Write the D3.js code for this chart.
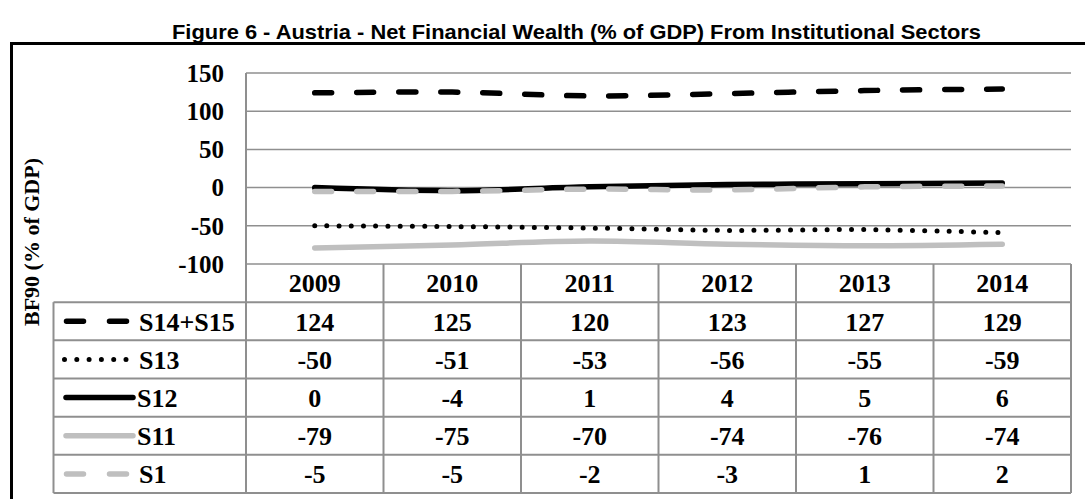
<!DOCTYPE html>
<html><head><meta charset="utf-8">
<script src="https://cdn.jsdelivr.net/npm/d3@7"></script>
<style>body{margin:0;background:#fff}svg{display:block}</style>
</head><body>
<svg id="c" width="1085" height="499"></svg>
<script>
const years = ["2009","2010","2011","2012","2013","2014"];
const seriesNames = ["S14+S15","S13","S12","S11","S1"];
const s14s15 = [124,125,120,123,127,129];
const s13 = [-50,-51,-53,-56,-55,-59];
const s12 = [0,-4,1,4,5,6];
const s11 = [-79,-75,-70,-74,-76,-74];
const s1 = [-5,-5,-2,-3,1,2];
const yTicks = [150,100,50,0,-50,-100];
const titleText = "Figure 6 - Austria - Net Financial Wealth (% of GDP) From Institutional Sectors";
const yTitle = "BF90 (% of GDP)";

const seriesValues = [s14s15, s13, s12, s11, s1];
const styles = [
  {color:"#000", w:5.5, dash:"17,25", keyDash:"17,26", solid:false},
  {color:"#000", w:5, dash:"0,12.2", keyDash:"0,12.3", solid:false},
  {color:"#000", w:5.5, dash:null, keyDash:null, solid:true},
  {color:"#bfbfbf", w:5.5, dash:null, keyDash:null, solid:true},
  {color:"#bfbfbf", w:5.5, dash:"17,25", keyDash:"17,26", solid:false}
];

const svg = d3.select("#c");
const serif = "'Liberation Serif','Times New Roman',serif";
const gridColor = "#8f8f8f";

const plotL = 246, plotR = 1071, plotT = 73, plotB = 264, tableB = 493, tableL = 53.5;
const x = d3.scaleBand().domain(years).range([plotL, plotR]);
const y = d3.scaleLinear().domain([-100,150]).range([plotB, plotT]);
const rows = d3.scaleBand().domain(["hdr", ...seriesNames]).range([plotB, tableB]);

// frame
svg.append("line").attr("x1",11.5).attr("x2",11.5).attr("y1",42).attr("y2",499).attr("stroke","#000").attr("stroke-width",3);
svg.append("line").attr("x1",10).attr("x2",1085).attr("y1",43.5).attr("y2",43.5).attr("stroke","#000").attr("stroke-width",3);

// title
svg.append("text").attr("x",172).attr("y",39)
  .attr("font-family","'Liberation Sans Narrow','Arial Narrow','Liberation Sans',Arial,sans-serif")
  .attr("font-weight","bold").attr("font-size",20.5)
  .attr("textLength",809).attr("lengthAdjust","spacingAndGlyphs").text(titleText);

// gridlines
svg.append("g").selectAll("line").data(yTicks).join("line")
  .attr("x1",plotL).attr("x2",plotR).attr("y1",d=>y(d)).attr("y2",d=>y(d))
  .attr("stroke",gridColor).attr("stroke-width",1.5);

// y tick labels
svg.append("g").selectAll("text").data(yTicks).join("text")
  .attr("x",224).attr("y",d=>y(d)).attr("dy","0.35em").attr("text-anchor","end")
  .attr("font-family",serif).attr("font-weight","bold").attr("font-size",25).text(d=>d);

// y title
svg.append("text").attr("transform","translate(39,242) rotate(-90)").attr("text-anchor","middle")
  .attr("font-family",serif).attr("font-weight","bold").attr("font-size",22).text(yTitle);

// table lines
const tg = svg.append("g").attr("stroke",gridColor).attr("stroke-width",2);
const colEdges = years.map(d=>x(d)).concat([plotR]);
tg.selectAll("line.v").data(colEdges).join("line").attr("class","v")
  .attr("x1",d=>d).attr("x2",d=>d).attr("y1",(d,i)=>i===0?plotT:plotB).attr("y2",tableB);
tg.append("line").attr("x1",tableL).attr("x2",tableL).attr("y1",rows("S14+S15")).attr("y2",tableB);
const rowEdges = seriesNames.map(s=>rows(s)).concat([tableB]);
tg.selectAll("line.h").data(rowEdges).join("line").attr("class","h")
  .attr("x1",tableL).attr("x2",plotR).attr("y1",d=>d).attr("y2",d=>d);

// header years
svg.append("g").selectAll("text").data(years).join("text")
  .attr("x",d=>x(d)+x.bandwidth()/2).attr("y",rows("hdr")+rows.bandwidth()/2).attr("dy","0.36em")
  .attr("text-anchor","middle").attr("font-family",serif).attr("font-weight","bold").attr("font-size",26).text(d=>d);

// lines
const line = d3.line().x((d,i)=>x(years[i])+x.bandwidth()/2).y(d=>y(d)).curve(d3.curveCatmullRom.alpha(0.5));
seriesValues.forEach((vals,si)=>{
  const st = styles[si];
  svg.append("path").datum(vals).attr("d",line).attr("fill","none")
    .attr("stroke",st.color).attr("stroke-width",st.w).attr("stroke-linecap","round")
    .attr("stroke-linejoin","round").attr("stroke-dasharray",st.dash);
});

// table rows
seriesNames.forEach((name,si)=>{
  const st = styles[si];
  const cy = rows(name)+rows.bandwidth()/2;
  const keyStart = st.solid ? 66 : (st.w === 5 ? 64.5 : 66.5);
  const keyEnd = st.solid ? 133 : 126.5;
  svg.append("line").attr("x1",keyStart).attr("x2",keyEnd).attr("y1",cy).attr("y2",cy)
    .attr("stroke",st.color).attr("stroke-width",st.w).attr("stroke-linecap","round")
    .attr("stroke-dasharray",st.keyDash);
  svg.append("text").attr("x",st.solid ? 137 : 139).attr("y",cy).attr("dy","0.36em")
    .attr("font-family",serif).attr("font-weight","bold").attr("font-size",26).text(name);
  svg.append("g").selectAll("text").data(seriesValues[si]).join("text")
    .attr("x",(d,i)=>x(years[i])+x.bandwidth()/2).attr("y",cy).attr("dy","0.36em")
    .attr("text-anchor","middle").attr("font-family",serif).attr("font-weight","bold").attr("font-size",26)
    .text(d=>d);
});
</script>
</body></html>
